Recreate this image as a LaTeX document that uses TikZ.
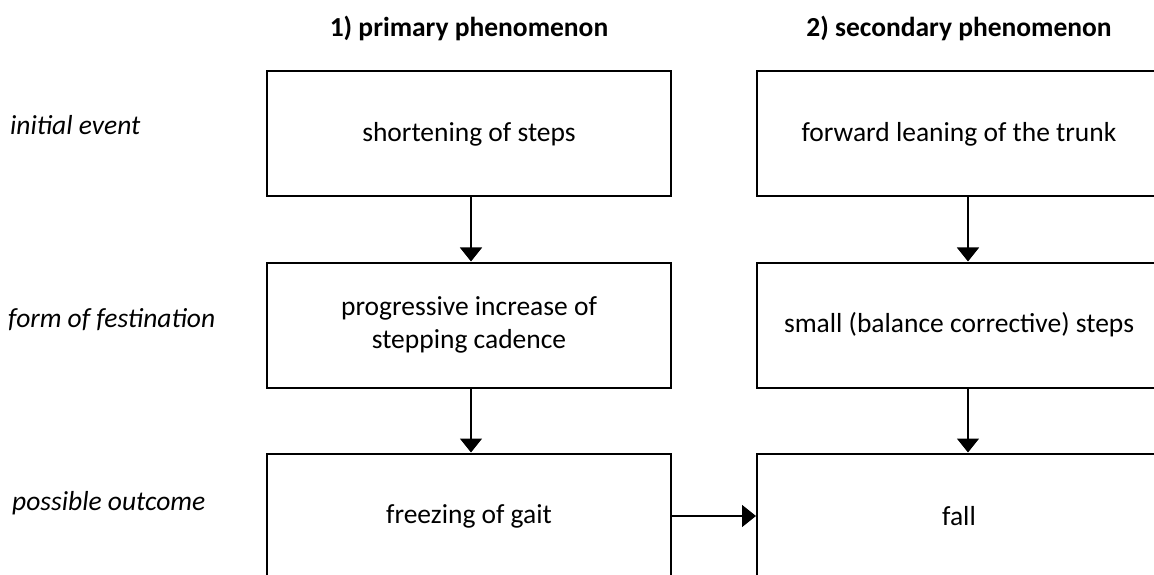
\documentclass[tikz,border=0pt]{standalone}
\usepackage{fontspec}
\setmainfont{Carlito}
\usetikzlibrary{positioning,arrows.meta}
\tikzset{
	caja/.style={rectangle, draw, line width=2pt, minimum width=404pt,
		minimum height=125pt, align=center, font=\fontsize{27.5}{33}\selectfont},
	rotulo/.style={anchor=west, inner sep=0pt, font=\itshape\fontsize{27.5}{33}\selectfont},
	cabecera/.style={inner sep=0pt, font=\bfseries\fontsize{27.5}{33}\selectfont},
	flecha/.style={line width=1.5pt, -{Triangle[length=14pt,width=22pt]}}
}

\begin{document}
\begin{tikzpicture}[x=1pt, y=1pt, node distance=64pt and 84pt]
	\useasboundingbox (0,0) rectangle (1154,574);
	\clip (0,0) rectangle (1154,574);
	
	\node[caja] (corto) at (469,440) {shortening of steps};
	\node[caja, below=of corto] (cadencia) {progressive increase of\\stepping cadence};
	\node[caja, below=of cadencia] (congela) {freezing of gait};
	
	\node[caja, right=of corto] (tronco) {forward leaning of the trunk};
	\node[caja, below=of tronco] (balance) {small (balance corrective) steps};
	\node[caja, below=of balance] (caida) {fall};
	
	\node[cabecera, above=29pt of corto] (prim) {1) primary phenomenon};
	\node[cabecera, above=29pt of tronco] (secu) {2) secondary phenomenon};
	
	\node[rotulo] (inicial) at (10,449) {initial event};
	\node[rotulo] (forma) at (8,254) {form of festination};
	\node[rotulo] (desenlace) at (12,71) {possible outcome};
	
	\draw[flecha] ([xshift=2pt]corto.south) -- ([xshift=2pt]cadencia.north);
	\draw[flecha] ([xshift=2pt]cadencia.south) -- ([xshift=2pt]congela.north);
	\draw[flecha] ([xshift=9pt]tronco.south) -- ([xshift=9pt]balance.north);
	\draw[flecha] ([xshift=9pt]balance.south) -- ([xshift=9pt]caida.north);
	\draw[flecha] (congela) -- (caida);
\end{tikzpicture}
\end{document}
